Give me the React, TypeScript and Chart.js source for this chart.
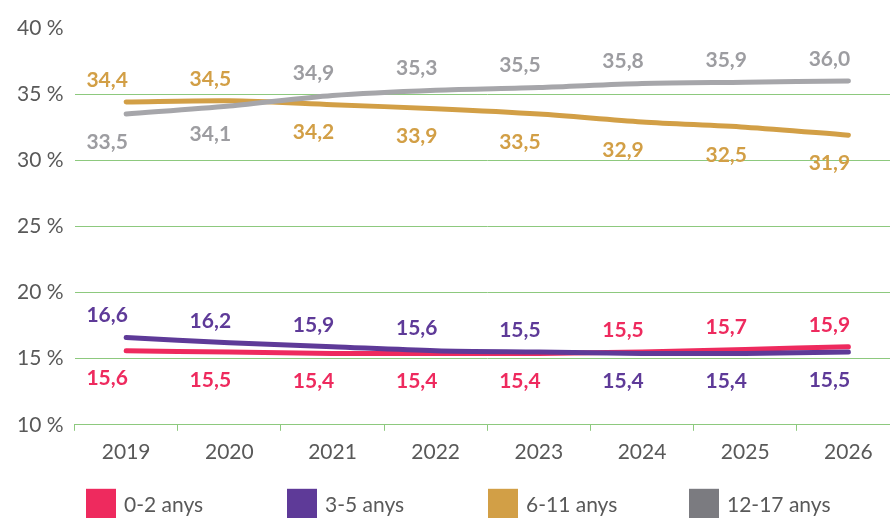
import { useEffect, useRef } from 'react';
import { Chart, registerables } from 'chart.js';

Chart.register(...registerables);

const categories = ['2019', '2020', '2021', '2022', '2023', '2024', '2025', '2026'];
const seriesNames = ['0-2 anys', '3-5 anys', '6-11 anys', '12-17 anys'];
const values0to2 = [15.6, 15.5, 15.4, 15.4, 15.4, 15.5, 15.7, 15.9];
const values3to5 = [16.6, 16.2, 15.9, 15.6, 15.5, 15.4, 15.4, 15.5];
const values6to11 = [34.4, 34.5, 34.2, 33.9, 33.5, 32.9, 32.5, 31.9];
const values12to17 = [33.5, 34.1, 34.9, 35.3, 35.5, 35.8, 35.9, 36.0];
const yTickValues = [10, 15, 20, 25, 30, 35, 40];

const lineColors = ['#EE2A5E', '#5E3A98', '#D29F46', '#A6A6AA'];
const labelColors = ['#EE2A5E', '#5E3A98', '#D29F46', '#9D9DA1'];
const legendColors = ['#EE2A5E', '#5E3A98', '#D29F46', '#7B7B80'];
const GREEN = '#8DC97E';
const TEXT = '#595959';
const FONT = 'Lato, "Open Sans", sans-serif';

const fmt = (v: number) => v.toFixed(1).replace('.', ',');

const dataLabelPlugin = {
  id: 'dataLabels',
  afterDatasetsDraw(chart: any) {
    const ctx = chart.ctx;
    ctx.save();
    ctx.font = `bold 21px ${FONT}`;
    ctx.textAlign = 'center';
    ctx.textBaseline = 'middle';
    chart.data.datasets.forEach((ds: any, i: number) => {
      const partner = chart.data.datasets[i ^ 1];
      const meta = chart.getDatasetMeta(i);
      meta.data.forEach((pt: any, j: number) => {
        const v = ds.data[j];
        const above = v >= partner.data[j];
        const y = above ? pt.y - 22 : pt.y + 28;
        ctx.fillStyle = labelColors[i];
        ctx.fillText(fmt(v), pt.x - 19, y);
      });
    });
    ctx.restore();
  },
};

const legendPlugin = {
  id: 'customLegend',
  afterDraw(chart: any) {
    const ctx = chart.ctx;
    const left = 86;
    const slot = 201;
    const top = chart.chartArea.bottom + 64;
    ctx.save();
    ctx.font = `21px ${FONT}`;
    ctx.textAlign = 'left';
    ctx.textBaseline = 'middle';
    chart.data.datasets.forEach((ds: any, i: number) => {
      const x = left + i * slot;
      ctx.fillStyle = legendColors[i];
      ctx.fillRect(x, top, 30, 30);
      ctx.fillStyle = TEXT;
      ctx.fillText(ds.label, x + 38, top + 16);
    });
    ctx.restore();
  },
};

export default function App() {
  const ref = useRef<HTMLCanvasElement>(null);
  useEffect(() => {
    document.body.style.margin = '0';
    const series = [values0to2, values3to5, values6to11, values12to17];
    const chart = new Chart(ref.current!, {
      type: 'line',
      data: {
        labels: categories,
        datasets: series.map((d, i) => ({
          label: seriesNames[i],
          data: d,
          borderColor: lineColors[i],
          backgroundColor: lineColors[i],
          borderWidth: 5,
          borderCapStyle: 'round',
          pointRadius: 0,
          tension: 0.3,
          order: 3 - i,
        })),
      },
      options: {
        animation: false,
        responsive: false,
        layout: { padding: { left: 6, right: 2, top: 28, bottom: 44 } },
        plugins: {
          legend: { display: false },
          tooltip: { enabled: false },
        },
        scales: {
          x: {
            offset: true,
            border: { display: true, color: GREEN, width: 1 },
            grid: {
              display: true,
              drawOnChartArea: false,
              drawTicks: true,
              tickLength: 6,
              color: GREEN,
              offset: true,
            },
            ticks: { color: TEXT, font: { family: FONT, size: 21 }, padding: 9 },
          },
          y: {
            min: 10,
            max: 40,
            afterBuildTicks: (axis: any) => {
              axis.ticks = yTickValues.map((v) => ({ value: v }));
            },
            border: { display: false },
            grid: {
              drawTicks: false,
              color: (c: any) => (c.tick && c.tick.value === 40 ? 'rgba(0,0,0,0)' : GREEN),
            },
            ticks: {
              color: TEXT,
              font: { family: FONT, size: 21 },
              padding: 11,
              callback: (v: any) => `${v} %`,
            },
          },
        },
      },
      plugins: [dataLabelPlugin, legendPlugin],
    } as any);
    return () => chart.destroy();
  }, []);
  return (
    <div style={{ position: 'fixed', left: 0, top: 0, width: 890, height: 518, overflow: 'hidden', background: '#fff' }}>
      <canvas ref={ref} width={902} height={518} style={{ display: 'block' }} />
    </div>
  );
}
